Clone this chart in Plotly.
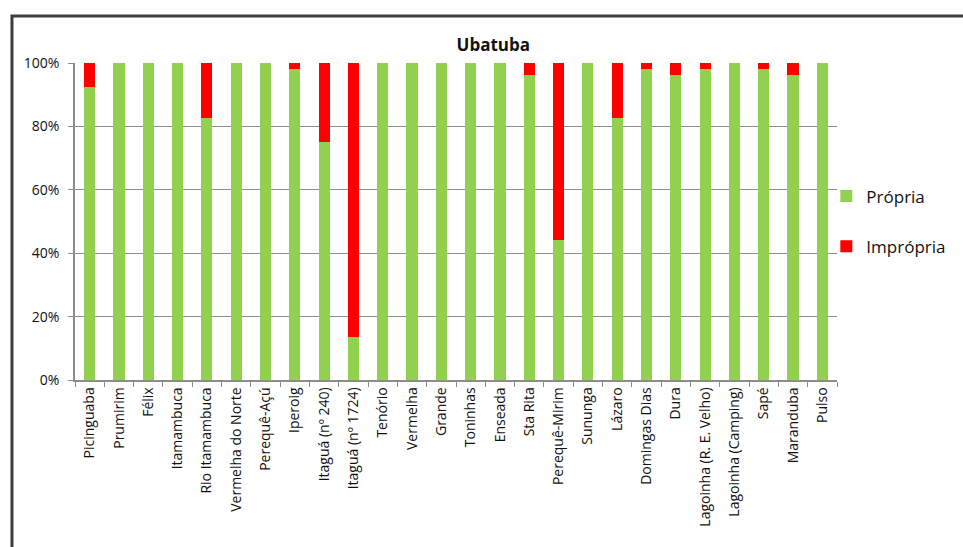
import plotly.graph_objects as go

# Praias de Ubatuba: share of weekly samples rated "Própria" / "Imprópria" (%)
praias = [
    "Picinguaba", "Prumirim", "Félix", "Itamambuca", "Rio Itamambuca",
    "Vermelha do Norte", "Perequê-Açú", "Iperoig", "Itaguá (nº 240)",
    "Itaguá (nº 1724)", "Tenório", "Vermelha", "Grande", "Toninhas",
    "Enseada", "Sta Rita", "Perequê-Mirim", "Sununga", "Lázaro",
    "Domingas Dias", "Dura", "Lagoinha (R. E. Velho)", "Lagoinha (Camping)",
    "Sapé", "Maranduba", "Pulso",
]
propria = [
    92.3, 100, 100, 100, 82.7,
    100, 100, 98.1, 75.0,
    13.5, 100, 100, 100, 100,
    100, 96.2, 44.2, 100, 82.7,
    98.1, 96.2, 98.1, 100,
    98.1, 96.2, 100,
]
impropria = [round(100 - p, 1) for p in propria]
y_ticks = [0, 20, 40, 60, 80, 100]
y_tick_text = [f"{v}%" for v in y_ticks]

FONT = "Open Sans"
GREEN = "#92D050"
RED = "#FF0000"
AXIS_GREY = "#8C8C8C"

fig = go.Figure()
fig.add_trace(go.Bar(
    x=praias, y=propria, name="Própria", marker_color=GREEN,
    marker_line_width=0, legendgroup="p",
))
fig.add_trace(go.Bar(
    x=praias, y=impropria, name="Imprópria", marker_color=RED,
    marker_line_width=0, legendgroup="i",
))

# outer chart frame
fig.add_shape(
    type="rect", xref="paper", yref="paper",
    x0=-0.0827, x1=1.4, y0=-1.0, y1=1.148,
    line=dict(color="#3C3C3C", width=3), fillcolor="rgba(0,0,0,0)",
    layer="below",
)

fig.update_layout(
    width=963, height=547,
    margin=dict(l=75, r=126, t=63, b=167),
    paper_bgcolor="white", plot_bgcolor="white",
    barmode="stack", bargap=0.62,
    font=dict(family=FONT, color="#1A1A1A"),
    title=dict(
        text="<b>Ubatuba</b>", font=dict(size=17, family=FONT, color="#111"),
        xref="paper", x=0.549, xanchor="center",
        yref="container", y=1 - 45 / 547, yanchor="middle",
    ),
    legend=dict(
        x=0.986, xanchor="left", y=0.5, yanchor="middle",
        font=dict(size=17, family=FONT, color="#111"),
        traceorder="grouped", tracegroupgap=25,
        bgcolor="rgba(0,0,0,0)", borderwidth=0,
    ),
    showlegend=True,
)
fig.update_xaxes(
    type="category", tickangle=-90,
    tickfont=dict(size=14, family=FONT, color="#111"),
    showline=True, linecolor=AXIS_GREY, linewidth=1.5,
    ticks="outside", ticklen=5, tickcolor=AXIS_GREY, tickson="boundaries",
    showgrid=False,
)
fig.update_yaxes(
    range=[0, 100], tickvals=y_ticks, ticktext=y_tick_text,
    tickfont=dict(size=14, family=FONT, color="#111"),
    showline=True, linecolor=AXIS_GREY, linewidth=1.5,
    ticks="outside", ticklen=5, tickcolor=AXIS_GREY,
    ticklabelstandoff=6,
    showgrid=True, gridcolor=AXIS_GREY, gridwidth=1.2,
    zeroline=False,
)

fig.write_html("out.html")
